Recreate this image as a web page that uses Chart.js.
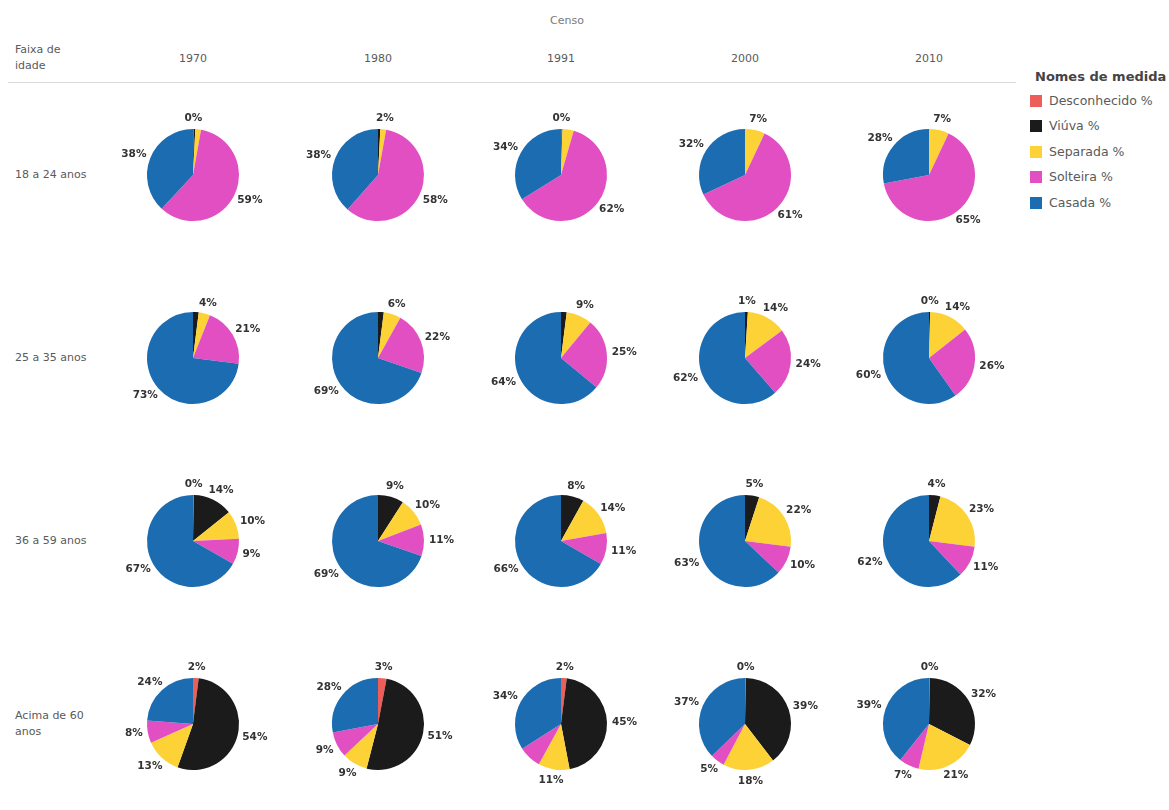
<!DOCTYPE html>
<html>
<head>
<meta charset="utf-8">
<script src="https://cdn.jsdelivr.net/npm/chart.js@4.4.1/dist/chart.umd.min.js"></script>
<style>
  html, body { margin: 0; padding: 0; background: #fff; }
  body { width: 1169px; height: 810px; position: relative; overflow: hidden;
         font-family: "DejaVu Sans", Arial, sans-serif; }
  .t { position: absolute; color: #5a5a5a; font-size: 11px; white-space: nowrap; }
  .yr { transform: translateX(-50%); }
  .box { position: absolute; width: 184px; height: 152px; }
  .leg { position: absolute; left: 1030px; font-size: 12.5px; color: #5a5a5a; white-space: nowrap; }
  .sw { display: inline-block; width: 12px; height: 12px; vertical-align: -2px; margin-right: 7px; }
</style>
</head>
<body>
<div class="t" style="left:567px; top:14px; transform:translateX(-50%); color:#7a7a7a;">Censo</div>
<div class="t" style="left:15px; top:42px; line-height:16px;">Faixa de<br>idade</div>
<div id="hdr"></div>
<div style="position:absolute; left:8px; top:82px; width:1008px; height:1px; background:#d9d9d9;"></div>
<div id="rows"></div>
<div id="legend"></div>
<div id="pies"></div>
<script>
// ---- data ----
const years = ['1970', '1980', '1991', '2000', '2010'];
const ageGroups = ['18 a 24 anos', '25 a 35 anos', '36 a 59 anos', 'Acima de 60 anos'];
const seriesNames = ['Desconhecido %', 'Viúva %', 'Separada %', 'Solteira %', 'Casada %'];
const seriesColors = ['#ee5e58', '#1b1b1b', '#fdd237', '#e14fc3', '#1c6cb1'];

// values per age group (rows) x census year (columns)
const desconhecido = [
  [0.2, null, 0.2, null, null],
  [null, null, null, null, null],
  [0.3, null, null, null, null],
  [2, 3, 2, 0.3, 0.3]
];
const viuva = [
  [0.6, 0.8, 0.3, null, null],
  [2, 2, 2, 1, 0.4],
  [14, 9, 8, 5, 4],
  [54, 51, 45, 39, 32]
];
const separada = [
  [2, 2, 4, 7, 7],
  [4, 6, 9, 14, 14],
  [10, 10, 14, 22, 23],
  [13, 9, 11, 18, 21]
];
const solteira = [
  [59, 58, 62, 61, 65],
  [21, 22, 25, 24, 26],
  [9, 11, 11, 10, 11],
  [8, 9, 8, 5, 7]
];
const casada = [
  [38, 38, 34, 32, 28],
  [73, 69, 64, 62, 60],
  [67, 69, 66, 63, 62],
  [24, 28, 34, 37, 39]
];
// labels hidden by overlap in the original: [ageIdx, yearIdx, seriesIdx]
const hiddenLabels = [
  [0, 0, 1], [0, 0, 2], [0, 1, 1], [0, 2, 1], [0, 2, 2],
  [1, 0, 1], [1, 1, 1], [1, 2, 1],
  [3, 2, 3]
];
const seriesData = [desconhecido, viuva, separada, solteira, casada];

// ---- layout ----
const colX = [193, 378, 561, 745, 929];
const rowY = [175, 358, 541, 724];

const hdr = document.getElementById('hdr');
years.forEach((y, i) => {
  const d = document.createElement('div');
  d.className = 't yr';
  d.style.left = colX[i] + 'px';
  d.style.top = '52px';
  d.textContent = y;
  hdr.appendChild(d);
});
const rows = document.getElementById('rows');
ageGroups.forEach((g, i) => {
  const d = document.createElement('div');
  d.className = 't';
  d.style.left = '15px';
  d.style.lineHeight = '16px';
  if (g === 'Acima de 60 anos') {
    d.innerHTML = 'Acima de 60<br>anos';
    d.style.top = (rowY[i] - 16) + 'px';
  } else {
    d.textContent = g;
    d.style.top = (rowY[i] - 8) + 'px';
  }
  rows.appendChild(d);
});
const legend = document.getElementById('legend');
const lt = document.createElement('div');
lt.className = 'leg';
lt.style.top = '69px';
lt.style.left = '1035px';
lt.style.fontSize = '13px';
lt.style.fontWeight = 'bold';
lt.style.color = '#444';
lt.textContent = 'Nomes de medida';
legend.appendChild(lt);
seriesNames.forEach((n, i) => {
  const d = document.createElement('div');
  d.className = 'leg';
  d.style.top = (93 + i * 25.4) + 'px';
  d.innerHTML = '<span class="sw" style="background:' + seriesColors[i] + '"></span>' + n;
  legend.appendChild(d);
});

const labelPlugin = {
  id: 'sliceLabels',
  afterDatasetsDraw(chart) {
    const ctx = chart.ctx;
    const meta = chart.getDatasetMeta(0);
    const ds = chart.data.datasets[0];
    ctx.save();
    ctx.font = 'bold 10.5px "DejaVu Sans", Arial, sans-serif';
    ctx.fillStyle = '#333';
    ctx.textAlign = 'center';
    ctx.textBaseline = 'middle';
    meta.data.forEach((arc, k) => {
      const v = ds.data[k];
      if (v === null || v === undefined) return;
      if (ds.hidden_[k]) return;
      const p = arc.getProps(['x', 'y', 'startAngle', 'endAngle', 'outerRadius'], true);
      const mid = (p.startAngle + p.endAngle) / 2;
      const cx = Math.cos(mid), cy = Math.sin(mid);
      const txt = Math.round(v) + '%';
      const w = ctx.measureText(txt).width, h = 12;
      const x = p.x + cx * (p.outerRadius + 5) + cx * w / 2;
      const y = p.y + cy * (p.outerRadius + 5) + cy * h / 2;
      ctx.fillText(txt, x, y);
    });
    ctx.restore();
  }
};

const pies = document.getElementById('pies');
ageGroups.forEach((g, ai) => {
  years.forEach((yr, yi) => {
    const box = document.createElement('div');
    box.className = 'box';
    box.style.left = (colX[yi] - 92) + 'px';
    box.style.top = (rowY[ai] - 76) + 'px';
    const cv = document.createElement('canvas');
    box.appendChild(cv);
    pies.appendChild(box);
    const data = seriesData.map(s => s[ai][yi]);
    const hid = seriesNames.map((_, si) => hiddenLabels.some(h => h[0] === ai && h[1] === yi && h[2] === si));
    new Chart(cv, {
      type: 'pie',
      data: {
        labels: seriesNames,
        datasets: [{
          data: data,
          hidden_: hid,
          backgroundColor: seriesColors,
          borderWidth: 0
        }]
      },
      options: {
        responsive: true,
        maintainAspectRatio: false,
        animation: false,
        layout: { padding: { top: 30, bottom: 30, left: 46, right: 46 } },
        plugins: { legend: { display: false }, tooltip: { enabled: false } }
      },
      plugins: [labelPlugin]
    });
  });
});
</script>
</body>
</html>
